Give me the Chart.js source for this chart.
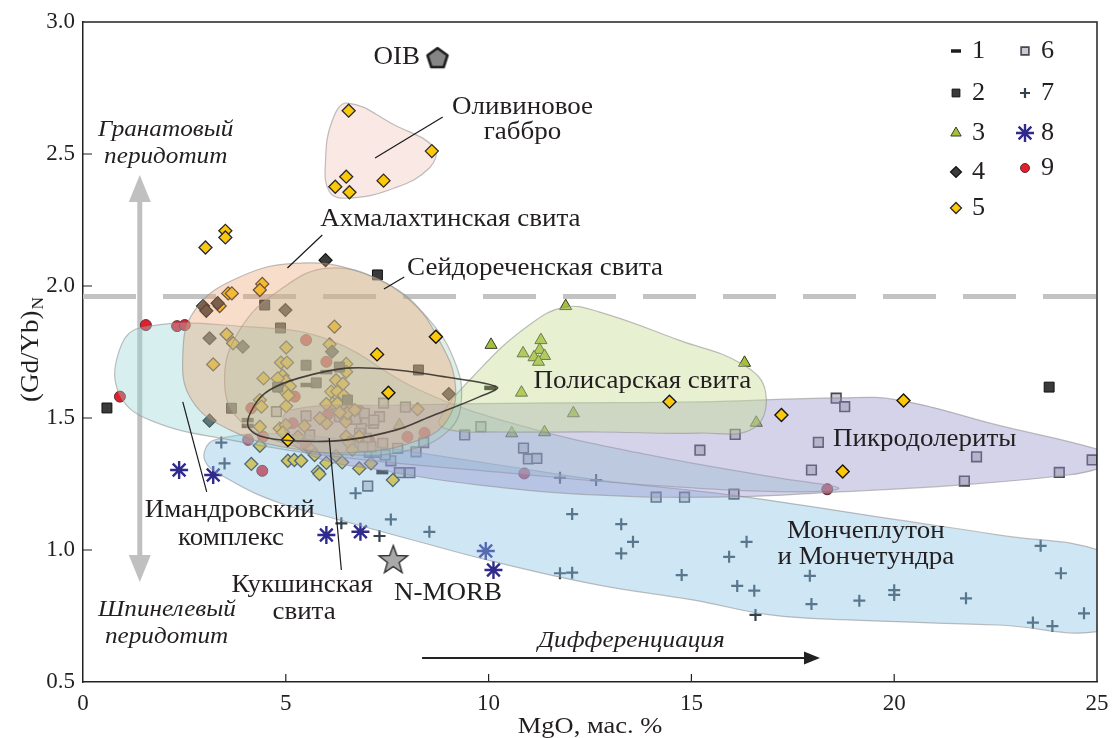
<!DOCTYPE html>
<html lang="ru">
<head>
<meta charset="utf-8">
<title>(Gd/Yb)N – MgO</title>
<script src="https://cdn.jsdelivr.net/npm/chart.js@4.4.1/dist/chart.umd.min.js"></script>
<style>
html,body{margin:0;padding:0;background:#fff;}
#box{position:relative;width:1113px;height:738px;}
</style>
</head>
<body>
<div id="box"><canvas id="chart" width="1113" height="738"></canvas></div>
<script>
// ---------------- DATA ----------------
const xTicks = [0, 5, 10, 15, 20, 25];
const yTicks = [0.5, 1.0, 1.5, 2.0, 2.5, 3.0];
const legendLabels = ['1', '2', '3', '4', '5', '6', '7', '8', '9'];

const series1 = [[6.00,1.674],[5.51,1.625],[10.04,1.614],[4.06,1.492],[4.06,1.470],[7.38,1.295]];
const series2 = [[0.59,1.538],[7.26,2.042],[23.82,1.617],[4.48,1.928],[4.87,1.841],[3.66,1.537],[5.50,1.700],[4.80,1.617],[5.75,1.633],[6.32,1.693],[6.52,1.568],[8.27,1.682]];
const series3 = [[11.90,1.924],[10.06,1.777],[11.29,1.795],[10.85,1.745],[11.26,1.758],[11.12,1.730],[11.38,1.735],[11.23,1.713],[10.81,1.596],[12.09,1.518],[16.31,1.709],[16.60,1.482],[10.57,1.442],[11.38,1.446],[7.80,1.473]];
const series4 = [[5.98,2.098],[9.02,1.591],[2.96,1.924],[3.04,1.906],[3.32,1.935],[4.99,1.909],[3.12,1.802],[3.94,1.770],[6.14,1.751],[3.12,1.490]];
const series5 = [
  [6.55,2.664],[8.60,2.511],[6.49,2.414],[6.22,2.376],[6.57,2.355],[7.41,2.399],
  [3.51,2.209],[3.51,2.184],[3.02,2.146],[4.42,2.008],[4.36,1.985],[3.58,1.972],[3.67,1.972],[3.37,1.924],
  [6.20,1.846],[3.54,1.817],[3.70,1.783],[3.21,1.703],[5.01,1.767],[6.08,1.779],[6.49,1.705],
  [8.25,1.533],[7.64,1.265],[4.45,1.650],[4.36,1.568],[4.40,1.543],[5.01,1.545],[4.36,1.467],[4.36,1.395],
  [4.85,1.460],[5.00,1.473],[4.93,1.445],[5.30,1.429],[5.46,1.470],[5.63,1.379],[5.71,1.360],[6.24,1.356],
  [6.39,1.332],[6.00,1.330],[4.15,1.326],[5.05,1.338],[5.21,1.341],[5.38,1.338],[5.79,1.297],[5.83,1.288],
  [7.10,1.328],[6.81,1.309],[4.88,1.710],[5.03,1.710],[4.92,1.660],[5.00,1.640],[4.80,1.650],[5.10,1.620],
  [4.98,1.600],[5.06,1.585],[6.12,1.600],[6.27,1.600],[6.43,1.585],[6.16,1.555],[6.00,1.553],[6.27,1.555],
  [6.47,1.535],[6.57,1.530],[6.49,1.430],[6.56,1.406],[6.81,1.430],[6.64,1.380],[6.49,1.675],[6.24,1.643],
  [6.41,1.630],[6.00,1.480],[5.84,1.499],[6.48,1.486],[6.52,1.518],[6.70,1.530],[6.33,1.521]
];
const series5Top = [[7.25,1.741],[8.70,1.808],[7.53,1.596],[5.05,1.417],[14.46,1.562],[17.22,1.511],[20.23,1.566],[18.73,1.297]];
const series6 = [
  [18.57,1.575],[18.78,1.543],[16.08,1.438],[18.13,1.408],[22.03,1.353],[24.88,1.341],[17.96,1.303],[24.07,1.294],
  [21.73,1.261],[16.05,1.212],[15.21,1.378],[14.13,1.200],[14.83,1.200],[10.86,1.386],[10.98,1.345],[11.19,1.347],
  [7.41,1.556],[7.95,1.541],[9.81,1.467],[9.41,1.436],[8.40,1.407],[8.21,1.372],[7.76,1.385],[7.59,1.338],
  [7.45,1.360],[6.98,1.423],[7.39,1.404],[7.80,1.293],[8.06,1.293],[7.02,1.242],[7.31,1.505],[7.16,1.480],
  [6.98,1.490],[6.86,1.460],[6.81,1.395],[7.06,1.370],[7.23,1.370],[6.72,1.495],[6.94,1.518],[7.17,1.492],
  [6.82,1.442],[7.10,1.391],[6.90,1.391],[4.77,1.524],[5.50,1.508],[5.59,1.436],[6.32,1.505]
];
const series7 = [
  [3.41,1.407],[3.49,1.328],[6.72,1.215],[6.37,1.101],[7.59,1.116],[7.31,1.053],[8.54,1.069],[11.76,1.274],
  [12.65,1.265],[12.06,1.136],[13.27,1.098],[13.56,1.031],[13.27,0.987],[11.76,0.912],[12.06,0.914],[14.76,0.905],
  [16.36,1.031],[15.93,0.974],[16.13,0.864],[16.55,0.846],[16.58,0.754],[17.92,0.902],[17.96,0.795],[19.14,0.808],
  [20.00,0.848],[20.00,0.830],[21.77,0.817],[23.61,1.016],[24.11,0.912],[23.42,0.725],[23.90,0.712],[24.68,0.760]
];
const series8 = [[2.37,1.303],[3.21,1.284],[6.00,1.057],[6.84,1.069],[9.93,0.996],[10.12,0.924]];
const series9 = [[1.55,1.852],[2.32,1.848],[2.51,1.852],[0.91,1.581],[4.42,1.300],[4.07,1.417],[5.50,1.795],[6.00,1.713],[5.22,1.581],[4.15,1.537],[5.17,1.480],[6.04,1.514],[6.82,1.527],[4.44,1.429],[5.49,1.402],[7.06,1.414],[8.00,1.429],[8.42,1.444],[10.88,1.290],[18.35,1.230]];
const oibPoint = [[8.74,2.867]];
const morbPoint = [[7.65,0.966]];

// field outlines (MgO, (Gd/Yb)N)
const fieldOlivineGabbro = [[6.52,2.693],[7.68,2.610],[8.66,2.523],[8.54,2.447],[7.68,2.371],[6.57,2.333],[6.08,2.356],[5.98,2.477],[6.15,2.629]];
const fieldAkhmalakhti = [[5.34,2.087],[6.82,2.053],[8.05,1.947],[8.78,1.795],[9.18,1.625],[8.98,1.492],[8.29,1.417],[6.82,1.371],[5.09,1.386],[3.62,1.455],[2.68,1.568],[2.46,1.739],[2.76,1.909],[3.86,2.034]];
const fieldSeidorechka = [[6.08,2.068],[7.55,2.004],[8.54,1.871],[9.15,1.720],[9.33,1.568],[9.03,1.455],[8.05,1.379],[6.57,1.360],[5.09,1.398],[3.86,1.492],[3.49,1.644],[3.86,1.833],[4.85,1.985]];
const fieldImandra = [[1.40,1.841],[4.11,1.845],[6.08,1.795],[8.29,1.606],[10.75,1.473],[13.95,1.360],[17.15,1.273],[18.63,1.235],[17.64,1.220],[13.95,1.246],[10.26,1.295],[6.57,1.348],[3.62,1.417],[1.65,1.492],[0.91,1.587],[0.86,1.739]];
const fieldPolisarka = [[8.78,1.492],[9.77,1.682],[11.00,1.852],[11.88,1.920],[12.72,1.902],[14.69,1.795],[16.29,1.701],[16.83,1.598],[16.54,1.462],[15.18,1.443],[12.72,1.447],[10.26,1.447],[9.03,1.455]];
const fieldPicrodolerite = [[5.09,1.530],[7.80,1.549],[11.49,1.557],[15.18,1.561],[18.63,1.576],[20.10,1.568],[22.56,1.473],[25.10,1.378],[25.40,1.345],[25.10,1.312],[24.29,1.284],[21.58,1.246],[18.63,1.220],[15.92,1.201],[12.72,1.208],[9.77,1.246],[7.31,1.303],[5.59,1.360],[4.97,1.455]];
const fieldMonche = [[3.25,1.417],[5.34,1.436],[7.80,1.379],[10.26,1.322],[12.72,1.265],[15.99,1.208],[20.10,1.114],[22.56,1.057],[25.30,0.985],[26.00,0.850],[25.30,0.700],[22.56,0.716],[18.87,0.735],[16.95,0.754],[15.03,0.811],[12.72,0.867],[10.26,0.951],[8.12,1.038],[6.32,1.114],[4.85,1.178],[3.62,1.265],[3.00,1.341]];
const fieldKukshi = [[4.06,1.473],[4.23,1.549],[4.60,1.606],[5.34,1.652],[6.50,1.689],[7.73,1.682],[8.96,1.655],[10.21,1.617],[9.77,1.580],[8.54,1.504],[7.73,1.455],[6.50,1.417],[5.24,1.413],[4.36,1.432]];

// text annotations: [text, x, y, align, italic]
const fieldLabels = [
  ['Ахмалахтинская свита', 5.85, 2.254, 'left', false],
  ['Сейдореченская свита', 7.99, 2.068, 'left', false],
  ['Полисарская свита', 11.11, 1.640, 'left', false],
  ['Пикродолериты', 18.49, 1.417, 'left', false],
  ['Мончеплутон', 19.30, 1.072, 'center', false],
  ['и Мончетундра', 19.30, 0.973, 'center', false],
  ['Оливиновое', 9.10, 2.678, 'left', false],
  ['габбро', 9.88, 2.583, 'left', false],
  ['Имандровский', 1.52, 1.148, 'left', false],
  ['комплекс', 2.34, 1.045, 'left', false],
  ['Кукшинская', 3.66, 0.867, 'left', false],
  ['свита', 4.67, 0.765, 'left', false],
  ['N-MORB', 7.67, 0.837, 'left', false],
  ['OIB', 8.31, 2.867, 'right', false],
  ['Гранатовый', 0.37, 2.591, 'left', true],
  ['перидотит', 0.52, 2.489, 'left', true],
  ['Шпинелевый', 0.37, 0.773, 'left', true],
  ['перидотит', 0.54, 0.670, 'left', true],
  ['Дифференциация', 13.52, 0.655, 'center', true]
];
// leader lines: [x1, y1, x2, y2]
const leaderLines = [
  [8.87,2.640, 7.20,2.485],
  [5.90,2.193, 5.04,2.068],
  [7.92,2.034, 7.42,1.989],
  [2.46,1.561, 3.05,1.220],
  [6.07,1.424, 6.37,0.924]
];
const garnetSpinelLevel = 1.96;
const peridotiteArrow = [1.40, 2.42, 0.879];   // x, top tip, bottom tip
const differentiationArrow = [8.36, 18.17, 0.591]; // x from, x to, y

// ---------------- HELPERS ----------------
const FONT = '"Liberation Serif","Times New Roman",serif';
const P = a => a.map(p => ({x: p[0], y: p[1]}));

function makePentagon() {
  const s = 26, c = document.createElement('canvas');
  c.width = s; c.height = s;
  const g = c.getContext('2d');
  const r = 10.5;
  g.beginPath();
  for (let i = 0; i < 5; i++) {
    const a = -Math.PI / 2 + i * 2 * Math.PI / 5;
    g.lineTo(s / 2 + r * Math.cos(a), s / 2 + 1.5 + r * Math.sin(a));
  }
  g.closePath();
  g.fillStyle = '#858585'; g.fill();
  g.lineWidth = 2.6; g.lineJoin = 'round'; g.strokeStyle = '#1e1e1e'; g.stroke();
  return c;
}
function makeStar() {
  const s = 34, c = document.createElement('canvas');
  c.width = s; c.height = s;
  const g = c.getContext('2d');
  const R = 15, r = 6.2;
  g.beginPath();
  for (let i = 0; i < 10; i++) {
    const a = -Math.PI / 2 + i * Math.PI / 5;
    const rr = i % 2 ? r : R;
    g.lineTo(s / 2 + rr * Math.cos(a), s / 2 + 1.5 + rr * Math.sin(a));
  }
  g.closePath();
  g.fillStyle = '#a9a9a9'; g.fill();
  g.lineWidth = 1.4; g.strokeStyle = '#333'; g.stroke();
  return c;
}

function field(label, pts, fillCol, order, extra) {
  return Object.assign({
    type: 'line', label, data: P(pts), closed: true, fill: 'shape',
    backgroundColor: fillCol, borderColor: 'rgba(140,140,140,0.55)', borderWidth: 1.2,
    pointRadius: 0, pointHoverRadius: 0, tension: 0.42, order, inLegend: false
  }, extra || {});
}
function pointsDs(label, pts, style, radius, bg, border, bw, order, extra) {
  return Object.assign({
    type: 'scatter', label, data: P(pts), pointStyle: style, pointRadius: radius, pointHoverRadius: radius,
    backgroundColor: bg, borderColor: border, pointBackgroundColor: bg, pointBorderColor: border,
    pointBorderWidth: bw, borderWidth: bw, order, inLegend: true
  }, extra || {});
}

const datasets = [
  field('Кукшинская свита', fieldKukshi, 'rgba(0,0,0,0)', -3, {fill: false, borderColor: 'rgba(55,50,45,0.9)', borderWidth: 1.6, tension: 0.35}),
  pointsDs('5', series5Top, 'rectRot', 6.5, '#fcc80c', '#151515', 1.4, -2, {inLegend: false}),
  pointsDs('OIB', oibPoint, makePentagon(), 12, '#858585', '#1e1e1e', 0, -2, {inLegend: false}),
  pointsDs('N-MORB', morbPoint, makeStar(), 16, '#a9a9a9', '#333', 0, -2, {inLegend: false}),
  field('Ахмалахтинская свита', fieldAkhmalakhti, 'rgba(236,160,112,0.36)', 0),
  field('Сейдореченская свита', fieldSeidorechka, 'rgba(160,205,182,0.34)', 0),
  field('Полисарская свита', fieldPolisarka, 'rgba(195,220,140,0.40)', 0),
  field('Пикродолериты', fieldPicrodolerite, 'rgba(150,145,200,0.40)', 0),
  field('Имандровский комплекс', fieldImandra, 'rgba(150,212,212,0.38)', 0),
  field('Мончеплутон и Мончетундра', fieldMonche, 'rgba(140,195,230,0.42)', 0),
  pointsDs('1', series1, 'line', 6, '#1e1e1e', '#1e1e1e', 4.5, 1),
  pointsDs('2', series2, 'rect', 7, '#3a3a3a', '#111', 1, 1),
  pointsDs('3', series3, 'triangle', 7, '#a3c23a', '#3a3a2a', 1, 1),
  pointsDs('4', series4, 'rectRot', 6.5, '#3c3c3c', '#111', 1.2, 1),
  pointsDs('5', series5, 'rectRot', 6.5, '#fcc80c', '#2a2a2a', 1.3, 1),
  pointsDs('6', series6, 'rect', 6.8, '#cbcbce', '#4b4456', 1.6, 1),
  pointsDs('7', series7, 'cross', 6, '#33414c', '#33414c', 2.2, 1),
  pointsDs('8', series8, 'star', 9, '#2f2a8c', '#2f2a8c', 2.4, 1),
  pointsDs('9', series9, 'circle', 5.5, '#e3202a', '#5a2a3a', 1, 1),
  field('Оливиновое габбро', fieldOlivineGabbro, 'rgba(245,205,195,0.45)', 5)
];

// smooth closed outlines for fields
const loopPlugin = {
  id: 'closedFields',
  afterDatasetUpdate(chart, args) {
    const ds = chart.data.datasets[args.index];
    const line = args.meta.dataset;
    if (ds.closed && line) {
      line._loop = true;
      line._fullLoop = true;
      line._pointsUpdated = false;
      delete line._segments;
      delete line._path;
    }
  }
};

function drawText(ctx, s, x, y, size, italic, align, sx) {
  ctx.save();
  ctx.font = (italic ? 'italic ' : '') + size + 'px ' + FONT;
  ctx.fillStyle = '#231f20';
  ctx.textBaseline = 'middle';
  ctx.textAlign = align || 'center';
  ctx.translate(x, y);
  ctx.scale(sx || 1.08, 1);
  ctx.fillText(s, 0, 0);
  ctx.restore();
}
function arrowHead(ctx, x, y, dx, dy, len, half) {
  const n = Math.hypot(dx, dy), ux = dx / n, uy = dy / n;
  ctx.beginPath();
  ctx.moveTo(x, y);
  ctx.lineTo(x - ux * len - uy * half, y - uy * len + ux * half);
  ctx.lineTo(x - ux * len + uy * half, y - uy * len - ux * half);
  ctx.closePath();
  ctx.fill();
}

const decoPlugin = {
  id: 'deco',
  beforeDatasetsDraw(chart) {
    const {ctx, chartArea: a, scales: {x, y}} = chart;
    ctx.save();
    // garnet/spinel boundary
    ctx.beginPath();
    ctx.setLineDash([53, 27]);
    ctx.lineWidth = 5;
    ctx.strokeStyle = '#c3c3c3';
    const yy = y.getPixelForValue(garnetSpinelLevel);
    ctx.moveTo(a.left, yy); ctx.lineTo(a.right, yy);
    ctx.stroke();
    ctx.setLineDash([]);
    // grey double arrow
    const ax = x.getPixelForValue(peridotiteArrow[0]);
    const yt = y.getPixelForValue(peridotiteArrow[1]);
    const yb = y.getPixelForValue(peridotiteArrow[2]);
    ctx.strokeStyle = '#c0c0c0'; ctx.fillStyle = '#c0c0c0';
    ctx.lineWidth = 5;
    ctx.beginPath(); ctx.moveTo(ax, yt + 20); ctx.lineTo(ax, yb - 20); ctx.stroke();
    arrowHead(ctx, ax, yt, 0, -1, 27, 11);
    arrowHead(ctx, ax, yb, 0, 1, 27, 11);
    ctx.restore();
  },
  afterDatasetsDraw(chart) {
    const {ctx, chartArea: a, scales: {x, y}} = chart;
    ctx.save();
    // frame top/right
    ctx.strokeStyle = '#222'; ctx.lineWidth = 1.5;
    ctx.beginPath();
    ctx.moveTo(a.left, a.top); ctx.lineTo(a.right, a.top); ctx.lineTo(a.right, a.bottom);
    ctx.stroke();
    // inner ticks
    ctx.lineWidth = 1.2;
    ctx.beginPath();
    xTicks.slice(1, -1).forEach(v => { const px = x.getPixelForValue(v); ctx.moveTo(px, a.bottom); ctx.lineTo(px, a.bottom - 8); });
    yTicks.slice(1, -1).forEach(v => { const py = y.getPixelForValue(v); ctx.moveTo(a.left, py); ctx.lineTo(a.left + 9, py); });
    ctx.stroke();
    // leader lines
    ctx.strokeStyle = '#1a1a1a'; ctx.lineWidth = 1.2;
    leaderLines.forEach(l => {
      ctx.beginPath();
      ctx.moveTo(x.getPixelForValue(l[0]), y.getPixelForValue(l[1]));
      ctx.lineTo(x.getPixelForValue(l[2]), y.getPixelForValue(l[3]));
      ctx.stroke();
    });
    // differentiation arrow
    const dx1 = x.getPixelForValue(differentiationArrow[0]);
    const dx2 = x.getPixelForValue(differentiationArrow[1]);
    const dy = y.getPixelForValue(differentiationArrow[2]);
    ctx.strokeStyle = '#222'; ctx.fillStyle = '#222'; ctx.lineWidth = 2.2;
    ctx.beginPath(); ctx.moveTo(dx1, dy); ctx.lineTo(dx2 - 10, dy); ctx.stroke();
    arrowHead(ctx, dx2, dy, 1, 0, 16, 6.5);
    ctx.restore();
    // labels
    fieldLabels.forEach(t => {
      drawText(ctx, t[0], x.getPixelForValue(t[1]), y.getPixelForValue(t[2]), t[4] ? 24 : 25, t[4], t[3], t[4] ? 1.05 : 1.08);
    });
  },
  afterDraw(chart) {
    const {ctx, chartArea: a} = chart;
    // axis titles
    drawText(ctx, 'MgO, мас. %', (a.left + a.right) / 2, 727, 23, false, 'center', 1.15);
    ctx.save();
    ctx.translate(31, 350);
    ctx.rotate(-Math.PI / 2);
    ctx.scale(1.08, 1);
    ctx.fillStyle = '#231f20';
    ctx.textBaseline = 'middle';
    ctx.font = '25px ' + FONT;
    const main = '(Gd/Yb)';
    const w1 = ctx.measureText(main).width;
    ctx.font = '16px ' + FONT;
    const w2 = ctx.measureText('N').width;
    const start = -(w1 + w2) / 2;
    ctx.font = '25px ' + FONT;
    ctx.textAlign = 'left';
    ctx.fillText(main, start, 0);
    ctx.font = '16px ' + FONT;
    ctx.fillText('N', start + w1 + 1, 8);
    ctx.restore();
    // legend (2 columns)
    const legendItems = chart.data.datasets.filter(d => d.inLegend);
    const rowsY = [29, 71, 111, 150, 186];
    const col2Y = [29, 71, 111, 146];
    const symR = {'1': 5, '2': 5.5, '3': 6, '4': 5.5, '5': 5.5, '6': 5.5, '7': 5, '8': 9, '9': 4.5};
    legendLabels.forEach((lab, i) => {
      const ds = legendItems.find(d => d.label === lab);
      if (!ds) return;
      const col = i < 5 ? 0 : 1;
      const sx = a.right + (col ? -72 : -141);
      const sy = a.top + (col ? col2Y[i - 5] : rowsY[i]);
      ctx.save();
      ctx.fillStyle = ds.backgroundColor;
      ctx.strokeStyle = ds.borderColor;
      ctx.lineWidth = lab === '1' ? 3.5 : ds.pointBorderWidth;
      Chart.helpers.drawPoint(ctx, {pointStyle: ds.pointStyle, radius: symR[lab], rotation: 0, borderWidth: ctx.lineWidth}, sx, sy);
      ctx.restore();
      drawText(ctx, lab, sx + 16, sy, 25, false, 'left', 1.05);
    });
  }
};

const tickFont = {family: FONT, size: 23};
new Chart(document.getElementById('chart'), {
  type: 'scatter',
  data: {datasets},
  options: {
    responsive: false,
    animation: false,
    devicePixelRatio: 1,
    events: [],
    layout: {padding: {top: 22, right: 11, left: 0, bottom: 0}},
    plugins: {legend: {display: false}, tooltip: {enabled: false}},
    scales: {
      x: {
        type: 'linear', min: 0, max: 25,
        afterBuildTicks: s => { s.ticks = xTicks.map(v => ({value: v})); },
        afterFit: s => { s.height = 56; s.paddingLeft = 0; s.paddingRight = 0; s.paddingTop = 0; s.paddingBottom = 0; },
        grid: {display: false, drawTicks: false},
        border: {display: true, color: '#222', width: 1.5},
        ticks: {font: tickFont, color: '#231f20', padding: 8, maxRotation: 0, callback: v => String(v)}
      },
      y: {
        type: 'linear', min: 0.5, max: 3.0,
        afterBuildTicks: s => { s.ticks = yTicks.map(v => ({value: v})); },
        afterFit: s => { s.width = 83; s.paddingLeft = 0; s.paddingRight = 0; s.paddingTop = 0; s.paddingBottom = 0; },
        grid: {display: false, drawTicks: false},
        border: {display: true, color: '#222', width: 1.5},
        ticks: {font: tickFont, color: '#231f20', padding: 8, callback: v => Number(v).toFixed(1)}
      }
    }
  },
  plugins: [loopPlugin, decoPlugin]
});
</script>
</body>
</html>
